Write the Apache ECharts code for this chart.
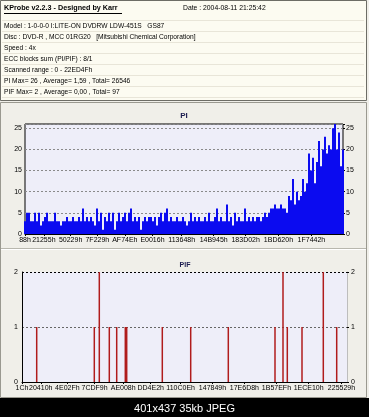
<!DOCTYPE html>
<html><head><meta charset="utf-8">
<script src="https://cdn.jsdelivr.net/npm/echarts@6/dist/echarts.min.js"></script>
<style>html,body{margin:0;padding:0;background:#000}#c{width:369px;height:417px}</style>
</head><body><div id="c"></div>
<script>
// ---------- data ----------
const headerTitle = 'KProbe v2.2.3 - Designed by Karr';
const headerDate = 'Date : 2004-08-11 21:25:42';
const headerLines = [
  'Model : 1-0-0-0 I:LITE-ON DVDRW LDW-451S   GS87',
  'Disc : DVD-R , MCC 01RG20   [Mitsubishi Chemical Corporation]',
  'Speed : 4x',
  'ECC blocks sum (PI/PIF) : 8/1',
  'Scanned range : 0 - 22ED4Fh',
  'PI Max= 26 , Average= 1,59 , Total= 26546',
  'PIF Max= 2 , Average= 0,00 , Total= 97'
];
const piTitle = 'PI';
const pifTitle = 'PIF';
const scanEndHex = '22ED4F';
const piTickLabels = ['88h','21255h','50229h','7F229h','AF74Eh','E0016h','113648h','14B945h','183D02h','1BD620h','1F7442h'];
const pifTickLabels = ['1Ch','20410h','4E02Fh','7CDF9h','AE008h','DD4E2h','110C0Eh','147849h','17E6D8h','1B57EFh','1ECE10h','225529h'];
const piYTicks = [0,5,10,15,20,25];
const pifYTicks = [0,1,2];
const piValues = [
  3,5,5,3,3,5,3,5,2,3,
  4,5,3,3,3,5,3,3,2,3,
  3,4,3,3,4,3,3,4,3,6,
  3,4,3,4,3,2,6,3,5,1,
  4,3,5,3,5,1,3,5,3,4,
  5,3,5,6,3,4,3,4,1,3,
  4,3,4,4,3,4,2,4,5,3,
  5,6,3,4,3,3,4,3,3,4,
  3,2,3,5,3,4,3,4,3,3,
  4,3,5,3,3,4,6,3,4,3,
  3,7,3,4,2,5,3,4,3,3,
  6,3,4,3,4,3,4,4,3,4,
  5,4,5,6,6,7,6,6,7,6,
  6,5,9,8,13,7,10,8,9,13,
  10,12,19,15,18,12,17,22,16,20,
  23,19,21,20,25,26,20,24,16,20
];
const pifLba = [103530,509210,544425,614855,666975,727545,737405,988130,1188150,1452980,1781880,1838225,1868510,1972040,2122060,2216435];
const pifValues = [1,1,2,1,1,1,1,1,1,1,1,2,1,1,2,1];
const footerText = '401x437 35kb JPEG';

// ---------- chart ----------
const FONT = '"Liberation Sans", Arial, sans-serif';
const END = parseInt(scanEndHex, 16);
const piData = piValues.map((v, i) => [i * END / (piValues.length - 1), v]);
const pifData = pifLba.map((x, i) => [x, pifValues[i]]);

function hexAxis(labels, gridIndex) {
  const vals = labels.map(l => parseInt(l, 16));
  const map = {};
  vals.forEach((v, i) => { map[v] = labels[i]; });
  return {
    type: 'value', gridIndex, min: 0, max: END,
    axisLine: { show: true, lineStyle: { color: '#000', width: 1 } },
    splitLine: { show: false },
    axisTick: { show: true, customValues: vals, length: 2, lineStyle: { color: '#000' } },
    axisLabel: { customValues: vals, formatter: v => map[Math.round(v)] || '', fontSize: 7, color: '#000', margin: 3, fontFamily: FONT }
  };
}
function yAx(gridIndex, max, interval, ticks, pos, extra) {
  return Object.assign({
    type: 'value', gridIndex, min: 0, max, interval, position: pos,
    axisLine: { show: false },
    axisTick: { show: false },
    axisLabel: { customValues: ticks, fontSize: 7, color: '#000', margin: 3, fontFamily: FONT },
    splitLine: { show: false }
  }, extra || {});
}

const graphic = [];
// header panel
graphic.push({ type: 'rect', shape: { x: 0.5, y: 0.5, width: 366, height: 100 }, style: { fill: '#fcfbf1', stroke: '#6d6d66', lineWidth: 1 } });
for (let k = 0; k < 8; k++) {
  const yy = 20.5 + k * 11;
  graphic.push({ type: 'line', shape: { x1: 2, y1: yy, x2: 364, y2: yy }, style: { stroke: '#e8e5d8', lineWidth: 1 } });
}
graphic.push({ type: 'text', x: 4, y: 8, scaleX: 0.9, style: { text: headerTitle, font: 'bold 8px ' + FONT, fill: '#000', verticalAlign: 'middle' } });
graphic.push({ type: 'line', shape: { x1: 4, y1: 13.5, x2: 122, y2: 13.5 }, style: { stroke: '#000', lineWidth: 1 } });
graphic.push({ type: 'text', x: 183, y: 8, scaleX: 0.85, style: { text: headerDate, font: '8px ' + FONT, fill: '#000', verticalAlign: 'middle' } });
headerLines.forEach((t, k) => {
  graphic.push({ type: 'text', x: 4, y: 26 + k * 11, scaleX: 0.83, style: { text: t, font: '8px ' + FONT, fill: '#000', verticalAlign: 'middle' } });
});
// chart panel frame
graphic.push({ type: 'rect', shape: { x: 0.5, y: 102.5, width: 366, height: 295 }, style: { fill: 'none', stroke: '#9a9990', lineWidth: 1 } });
graphic.push({ type: 'line', shape: { x1: 1, y1: 248.5, x2: 366, y2: 248.5 }, style: { stroke: '#b8b7ae', lineWidth: 1 } });
graphic.push({ type: 'line', shape: { x1: 1, y1: 249.5, x2: 366, y2: 249.5 }, style: { stroke: '#ffffff', lineWidth: 1 } });
// titles
graphic.push({ type: 'text', x: 184, y: 116, style: { text: piTitle, font: 'bold 8px ' + FONT, fill: '#1c1c50', align: 'center', verticalAlign: 'middle' } });
graphic.push({ type: 'text', x: 185, y: 265, style: { text: pifTitle, font: 'bold 7px ' + FONT, fill: '#1c1c50', align: 'center', verticalAlign: 'middle' } });
// footer
graphic.push({ type: 'rect', shape: { x: 0, y: 398, width: 369, height: 19 }, style: { fill: '#000' } });
graphic.push({ type: 'text', x: 184.5, y: 409, style: { text: footerText, font: '11px ' + FONT, fill: '#fff', align: 'center', verticalAlign: 'middle' } });

const option = {
  backgroundColor: '#f0efe9',
  animation: false,
  grid: [
    { left: 25, top: 124, width: 318, height: 110, show: true, backgroundColor: '#eeeef9', borderColor: '#000', borderWidth: 1 },
    { left: 22, top: 272, width: 325, height: 110, show: true, backgroundColor: '#eeeef9', borderWidth: 0 }
  ],
  xAxis: [hexAxis(piTickLabels, 0), hexAxis(pifTickLabels, 1)],
  yAxis: [
    yAx(0, 26, 5, piYTicks, 'left', { splitLine: { show: true, lineStyle: { type: [2, 2], color: '#8a8a8a' } } }),
    yAx(0, 26, 5, piYTicks, 'right', { axisTick: { show: true, length: 2, lineStyle: { color: '#000' } } }),
    yAx(1, 2, 1, pifYTicks, 'left', {
      axisLine: { show: true, lineStyle: { color: '#000' } },
      axisLabel: { customValues: pifYTicks, fontSize: 7, color: '#000', margin: 4, fontFamily: FONT },
      splitLine: { show: true, lineStyle: { type: [2, 2], color: ['#666', '#666', '#000'] } }
    }),
    yAx(1, 2, 1, pifYTicks, 'right', {
      axisLine: { show: true, lineStyle: { color: '#bdbdbd' } },
      axisTick: { show: true, length: 2, lineStyle: { color: '#000' } },
      axisLabel: { customValues: pifYTicks, fontSize: 7, color: '#000', margin: 4, fontFamily: FONT }
    })
  ],
  series: [
    { type: 'bar', xAxisIndex: 0, yAxisIndex: 0, data: piData, barWidth: 2, itemStyle: { color: '#0b0bf0' }, clip: true },
    { type: 'bar', xAxisIndex: 1, yAxisIndex: 2, data: pifData, barWidth: 1.5, itemStyle: { color: '#b01c1c' }, clip: true }
  ],
  graphic: { elements: graphic }
};
const chart = echarts.init(document.getElementById('c'), null, { renderer: 'canvas' });
chart.setOption(option);
</script>
</body></html>
